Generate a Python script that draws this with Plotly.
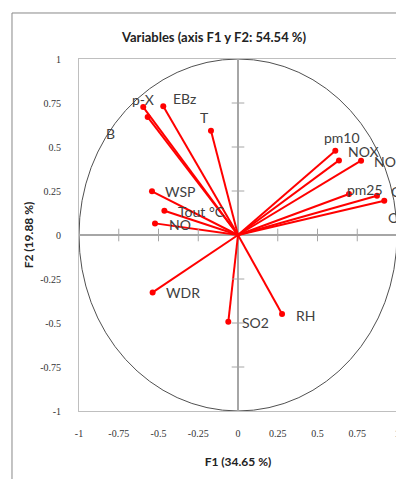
import plotly.graph_objects as go

variables = ["p-X", "B", "EBz", "T", "pm10", "NOX", "NO2", "pm25", "CO", "O3",
             "WSP", "Tout °C", "NO", "WDR", "SO2", "RH"]
f1 = [-0.596, -0.568, -0.470, -0.170, 0.612, 0.635, 0.774, 0.698, 0.874, 0.920,
      -0.541, -0.463, -0.522, -0.537, -0.061, 0.277]
f2 = [0.727, 0.670, 0.731, 0.593, 0.479, 0.424, 0.422, 0.233, 0.223, 0.195,
      0.248, 0.138, 0.066, -0.326, -0.493, -0.449]
# label placement: (xanchor, xshift, yshift) in pixels
label_pos = {
    "p-X": ("center", 0, 8), "B": ("center", -37, -16), "EBz": ("center", 21, 8),
    "T": ("center", -6, 13), "pm10": ("center", 7, 13), "NOX": ("center", 25, 9),
    "NO2": ("center", 28, -1), "pm25": ("center", 16, 4), "CO": ("left", 12, 4),
    "O3": ("left", 2, -17), "WSP": ("left", 11, 0), "Tout °C": ("left", 12, -1),
    "NO": ("left", 12, -1), "WDR": ("left", 11, 0), "SO2": ("left", 12, -1),
    "RH": ("left", 12, -1),
}
ticks = [-1, -0.75, -0.5, -0.25, 0, 0.25, 0.5, 0.75, 1]
tick_text = ["-1", "-0.75", "-0.5", "-0.25", "0", "0.25", "0.5", "0.75", "1"]

fig = go.Figure()

# vectors
lx, ly = [], []
for x, y in zip(f1, f2):
    lx += [0, x, None]
    ly += [0, y, None]
fig.add_trace(go.Scatter(x=lx, y=ly, mode="lines",
                         line=dict(color="#ff0000", width=2), hoverinfo="skip"))
fig.add_trace(go.Scatter(x=f1, y=f2, mode="markers", text=variables,
                         marker=dict(color="#ff0000", size=6)))

# tick marks on the zero axes
inner = [t for t in ticks if t not in (-1, 0, 1)]
fig.add_trace(go.Scatter(x=[0] * len(inner), y=inner, mode="markers",
                         marker=dict(symbol="line-ew", size=9,
                                     line=dict(color="#a6a6a6", width=1)),
                         hoverinfo="skip"))
fig.add_trace(go.Scatter(x=inner, y=[0] * len(inner), mode="markers",
                         marker=dict(symbol="line-ns", size=9,
                                     line=dict(color="#a6a6a6", width=1)),
                         hoverinfo="skip"))

# correlation circle
fig.add_shape(type="circle", xref="x", yref="y", x0=-1, y0=-1, x1=1, y1=1,
              line=dict(color="#505050", width=1), layer="below")

# outer chart frame
fig.add_shape(type="line", xref="paper", yref="paper", x0=-0.2107, x1=-0.2107,
              y0=-0.2, y1=1.1307, line=dict(color="#888888", width=1))
fig.add_shape(type="line", xref="paper", yref="paper", x0=-0.2107, x1=1.1,
              y0=1.1307, y1=1.1307, line=dict(color="#888888", width=1))

for name, x, y in zip(variables, f1, f2):
    anc, dx, dy = label_pos[name]
    fig.add_annotation(x=x, y=y, text=name, showarrow=False, xanchor=anc,
                       yanchor="middle", xshift=dx, yshift=dy,
                       font=dict(family="Lato", size=14, color="#404040"))

axis_common = dict(range=[-1, 1], tickvals=ticks, ticktext=tick_text,
                   showgrid=False, zeroline=True, zerolinecolor="#a6a6a6",
                   zerolinewidth=1.5, showline=True, linecolor="#bfbfbf",
                   linewidth=1, mirror=True, ticks="", automargin=False,
                   tickfont=dict(family="Liberation Serif", size=10, color="#333333"))

# the page body adds an 8px offset, so the figure is sized 8px smaller
fig.update_layout(
    width=396, height=471,
    margin=dict(l=71, r=7, t=51, b=68),
    paper_bgcolor="white", plot_bgcolor="white",
    showlegend=False,
    title=dict(text="<b>Variables (axis F1 y F2: 54.54 %)</b>", x=206 / 396, xanchor="center",
               y=1 - 29 / 471, yanchor="middle",
               font=dict(family="Lato", size=13, color="#222222")),
    xaxis=dict(**axis_common, ticklabelstandoff=13,
               title=dict(text="<b>F1 (34.65 %)</b>", standoff=19,
                          font=dict(family="Lato", size=12, color="#222222"))),
    yaxis=dict(**axis_common, ticklabelstandoff=15,
               title=dict(text="<b>F2 (19.88 %)</b>", standoff=3,
                          font=dict(family="Lato", size=12, color="#222222"))),
)

fig.write_html("out.html")
